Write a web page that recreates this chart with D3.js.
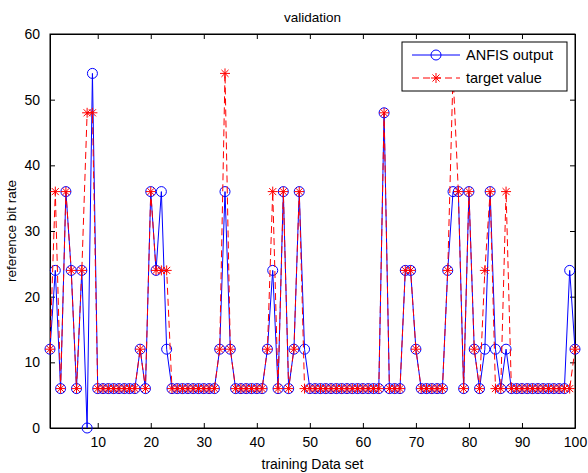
<!DOCTYPE html>
<html><head><meta charset="utf-8">
<script src="https://cdn.jsdelivr.net/npm/d3@7"></script>
<style>body{margin:0;background:#fff;}svg{display:block;font-family:"Liberation Sans",Arial,sans-serif;}</style>
</head><body>
<svg id="chart" width="588" height="473"></svg>
<script>
const anfisOutput = [12,24,6,36,24,6,24,0,54,6, 6,6,6,6,6,6,6,12,6,36, 24,36,12,6,6,6,6,6,6,6, 6,6,12,36,12,6,6,6,6,6, 6,12,24,6,36,6,12,36,12,6, 6,6,6,6,6,6,6,6,6,6, 6,6,6,48,6,6,6,24,24,12, 6,6,6,6,6,24,36,36,6,36, 12,6,12,36,12,6,12,6,6,6, 6,6,6,6,6,6,6,6,24,12];
const targetValue = [12,36,6,36,24,6,24,48,48,6, 6,6,6,6,6,6,6,12,6,36, 24,24,24,6,6,6,6,6,6,6, 6,6,12,54,12,6,6,6,6,6, 6,12,36,6,36,6,12,36,6,6, 6,6,6,6,6,6,6,6,6,6, 6,6,6,48,6,6,6,24,24,12, 6,6,6,6,6,24,54,36,6,36, 12,6,24,36,6,6,36,6,6,6, 6,6,6,6,6,6,6,6,6,12];
const xTicks = [10,20,30,40,50,60,70,80,90,100];
const yTicks = [0,10,20,30,40,50,60];
const seriesNames = ["ANFIS output","target value"];
const titleText = "validation", xLabel = "training Data set", yLabel = "reference bit rate";

(function(){
const svg = d3.select("#chart");
const L = 50, R = 575, T = 34, B = 428;
const x = d3.scaleLinear().domain([1,100]).range([L,R]);
const y = d3.scaleLinear().domain([0,60]).range([B,T]);

svg.append("defs").append("clipPath").attr("id","clip").append("rect")
  .attr("x",L).attr("y",T).attr("width",R-L).attr("height",B-T);

const fs = "14px";
const gB = svg.append("g").attr("transform",`translate(0,${B})`)
  .call(d3.axisBottom(x).tickValues(xTicks).tickSizeInner(-5).tickSizeOuter(0).tickPadding(9));
const gT = svg.append("g").attr("transform",`translate(0,${T})`)
  .call(d3.axisTop(x).tickValues(xTicks).tickSizeInner(-5).tickSizeOuter(0).tickFormat(""));
const gL = svg.append("g").attr("transform",`translate(${L},0)`)
  .call(d3.axisLeft(y).tickValues(yTicks).tickSizeInner(-5).tickSizeOuter(0).tickPadding(10));
const gR = svg.append("g").attr("transform",`translate(${R},0)`)
  .call(d3.axisRight(y).tickValues(yTicks).tickSizeInner(-5).tickSizeOuter(0).tickFormat(""));
[gB,gT,gL,gR].forEach(g=>{
  g.selectAll(".domain").attr("stroke","#000");
  g.selectAll(".tick line").attr("stroke","#000");
  g.selectAll("text").attr("fill","#000").style("font-size",fs).style("font-family","'Liberation Sans',Arial,sans-serif");
});
svg.append("rect").attr("x",L).attr("y",T).attr("width",R-L).attr("height",B-T)
  .attr("fill","none").attr("stroke","#000").attr("stroke-width",1);

const plot = svg.append("g").attr("clip-path","url(#clip)");
const marks = svg.append("g");
const line = d3.line().x((d,i)=>x(i+1)).y(d=>y(d));

plot.append("path").datum(anfisOutput).attr("d",line).attr("fill","none")
  .attr("stroke","#0000ff").attr("stroke-width",1);
marks.selectAll("circle.a").data(anfisOutput).enter().append("circle")
  .attr("cx",(d,i)=>x(i+1)).attr("cy",d=>y(d)).attr("r",5)
  .attr("fill","none").attr("stroke","#0000ff").attr("stroke-width",1);

const plot2 = svg.append("g").attr("clip-path","url(#clip)");
plot2.append("path").datum(targetValue).attr("d",line).attr("fill","none")
  .attr("stroke","#ff0000").attr("stroke-width",1).attr("stroke-dasharray","7,4");
function star(g, cx, cy, s, color){
  const d = s*0.707;
  const p = `M${cx-s},${cy}L${cx+s},${cy}M${cx},${cy-s}L${cx},${cy+s}M${cx-d},${cy-d}L${cx+d},${cy+d}M${cx-d},${cy+d}L${cx+d},${cy-d}`;
  g.append("path").attr("d",p).attr("stroke",color).attr("stroke-width",1).attr("fill","none");
}
const marks2 = svg.append("g");
targetValue.forEach((d,i)=>star(marks2, x(i+1), y(d), 5, "#ff0000"));

svg.append("text").attr("x",(L+R)/2).attr("y",22).attr("text-anchor","middle")
  .style("font-size","13.5px").text(titleText);
svg.append("text").attr("x",(L+R)/2).attr("y",469).attr("text-anchor","middle")
  .style("font-size","14px").text(xLabel);
svg.append("text").attr("transform",`translate(16,${(T+B)/2}) rotate(-90)`).attr("text-anchor","middle")
  .style("font-size","13.5px").text(yLabel);

const lg = svg.append("g");
lg.append("rect").attr("x",402).attr("y",42).attr("width",165).attr("height",49)
  .attr("fill","#fff").attr("stroke","#000").attr("stroke-width",1);
const ly = [55,78];
lg.append("line").attr("x1",412).attr("x2",460).attr("y1",ly[0]).attr("y2",ly[0]).attr("stroke","#0000ff");
lg.append("circle").attr("cx",436).attr("cy",ly[0]).attr("r",5).attr("fill","none").attr("stroke","#0000ff");
lg.append("line").attr("x1",412).attr("x2",460).attr("y1",ly[1]).attr("y2",ly[1]).attr("stroke","#ff0000").attr("stroke-dasharray","7,4");
star(lg, 436, ly[1], 5, "#ff0000");
seriesNames.forEach((n,i)=>lg.append("text").attr("x",466).attr("y",ly[i]+5).style("font-size","14.5px").text(n));
})();
</script>
</body></html>
